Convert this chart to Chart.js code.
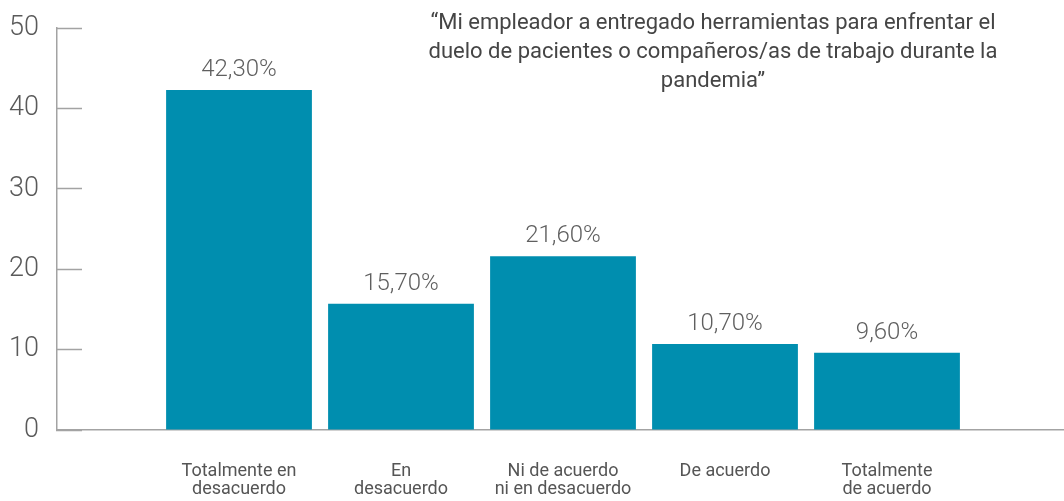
<!DOCTYPE html>
<html>
<head>
<meta charset="utf-8">
<script src="https://cdn.jsdelivr.net/npm/chart.js@4.4.1/dist/chart.umd.min.js"></script>
<style>
  body { margin: 0; background: #fff; }
  #wrap { width: 1064px; height: 501px; position: relative; }
</style>
</head>
<body>
<div id="wrap"><canvas id="chart"></canvas></div>
<script>
// Respuestas de la encuesta (porcentaje)
const categories = [
    ['Totalmente en', 'desacuerdo'],
    ['En', 'desacuerdo'],
    ['Ni de acuerdo', 'ni en desacuerdo'],
    ['De acuerdo'],
    ['Totalmente', 'de acuerdo']
];
const percentages = [42.3, 15.7, 21.6, 10.7, 9.6];
const yTicks = [0, 10, 20, 30, 40, 50];
const titleLines = [
    '\u201CMi empleador a entregado herramientas para enfrentar el',
    'duelo de pacientes o compa\u00F1eros/as de trabajo durante la',
    'pandemia\u201D'
];

const FONT = 'Roboto, "Noto Sans", sans-serif';
const axisGray = '#a3a3a3';

// value labels above each bar
const barLabels = {
    id: 'barLabels',
    afterDatasetsDraw(chart) {
        const ctx = chart.ctx;
        const meta = chart.getDatasetMeta(0);
        ctx.save();
        ctx.font = '300 24px ' + FONT;
        ctx.fillStyle = '#5f5f5f';
        ctx.textAlign = 'center';
        ctx.textBaseline = 'alphabetic';
        meta.data.forEach((bar, i) => {
            const txt = percentages[i].toFixed(2).replace('.', ',') + '%';
            ctx.fillText(txt, bar.x, bar.y - 14);
        });
        ctx.restore();
    }
};

// title inside the plot, top right
const insideTitle = {
    id: 'insideTitle',
    afterDraw(chart) {
        const ctx = chart.ctx;
        ctx.save();
        ctx.font = '400 22px ' + FONT;
        ctx.fillStyle = '#454545';
        ctx.textAlign = 'center';
        ctx.textBaseline = 'alphabetic';
        titleLines.forEach((line, i) => {
            ctx.fillText(line, 713, 29 + i * 29);
        });
        ctx.restore();
    }
};

const ctx = document.getElementById('chart').getContext('2d');
new Chart(ctx, {
    type: 'bar',
    data: {
        datasets: [{
            data: percentages.map((v, i) => ({ x: i, y: v })),
            backgroundColor: '#008eaf',
            borderWidth: 0,
            barPercentage: 0.9,
            categoryPercentage: 1
        }]
    },
    options: {
        responsive: true,
        maintainAspectRatio: false,
        animation: false,
        layout: { padding: { top: 28, left: 0, right: 0, bottom: 0 } },
        plugins: {
            legend: { display: false },
            tooltip: { enabled: false }
        },
        scales: {
            x: {
                type: 'linear',
                offset: false,
                min: -1.1235,
                max: 5.0926,
                afterBuildTicks: (axis) => {
                    axis.ticks = categories.map((c, i) => ({ value: i }));
                },
                afterFit: (axis) => {
                    axis.height = 71;
                    axis.paddingLeft = 0;
                    axis.paddingRight = 0;
                },
                grid: { display: false, drawTicks: false, offset: false },
                border: { display: true, color: axisGray, width: 1.5 },
                ticks: {
                    autoSkip: false,
                    maxRotation: 0,
                    padding: 32,
                    color: '#555555',
                    font: { family: FONT, size: 18, lineHeight: 1.0 },
                    callback: (v) => categories[v]
                }
            },
            y: {
                min: 0,
                max: 50,
                afterBuildTicks: (axis) => {
                    axis.ticks = yTicks.map(v => ({ value: v }));
                },
                afterFit: (axis) => {
                    axis.width = 57;
                    axis.paddingTop = 0;
                    axis.paddingBottom = 0;
                },
                grid: {
                    drawOnChartArea: false,
                    drawTicks: true,
                    tickLength: -25,
                    tickColor: axisGray,
                    tickWidth: 1.5
                },
                border: { display: true, color: axisGray, width: 1.5 },
                ticks: {
                    padding: 43,
                    color: '#5a5a5a',
                    font: { family: FONT, size: 27, weight: '300' }
                }
            }
        }
    },
    plugins: [barLabels, insideTitle]
});
</script>
</body>
</html>
